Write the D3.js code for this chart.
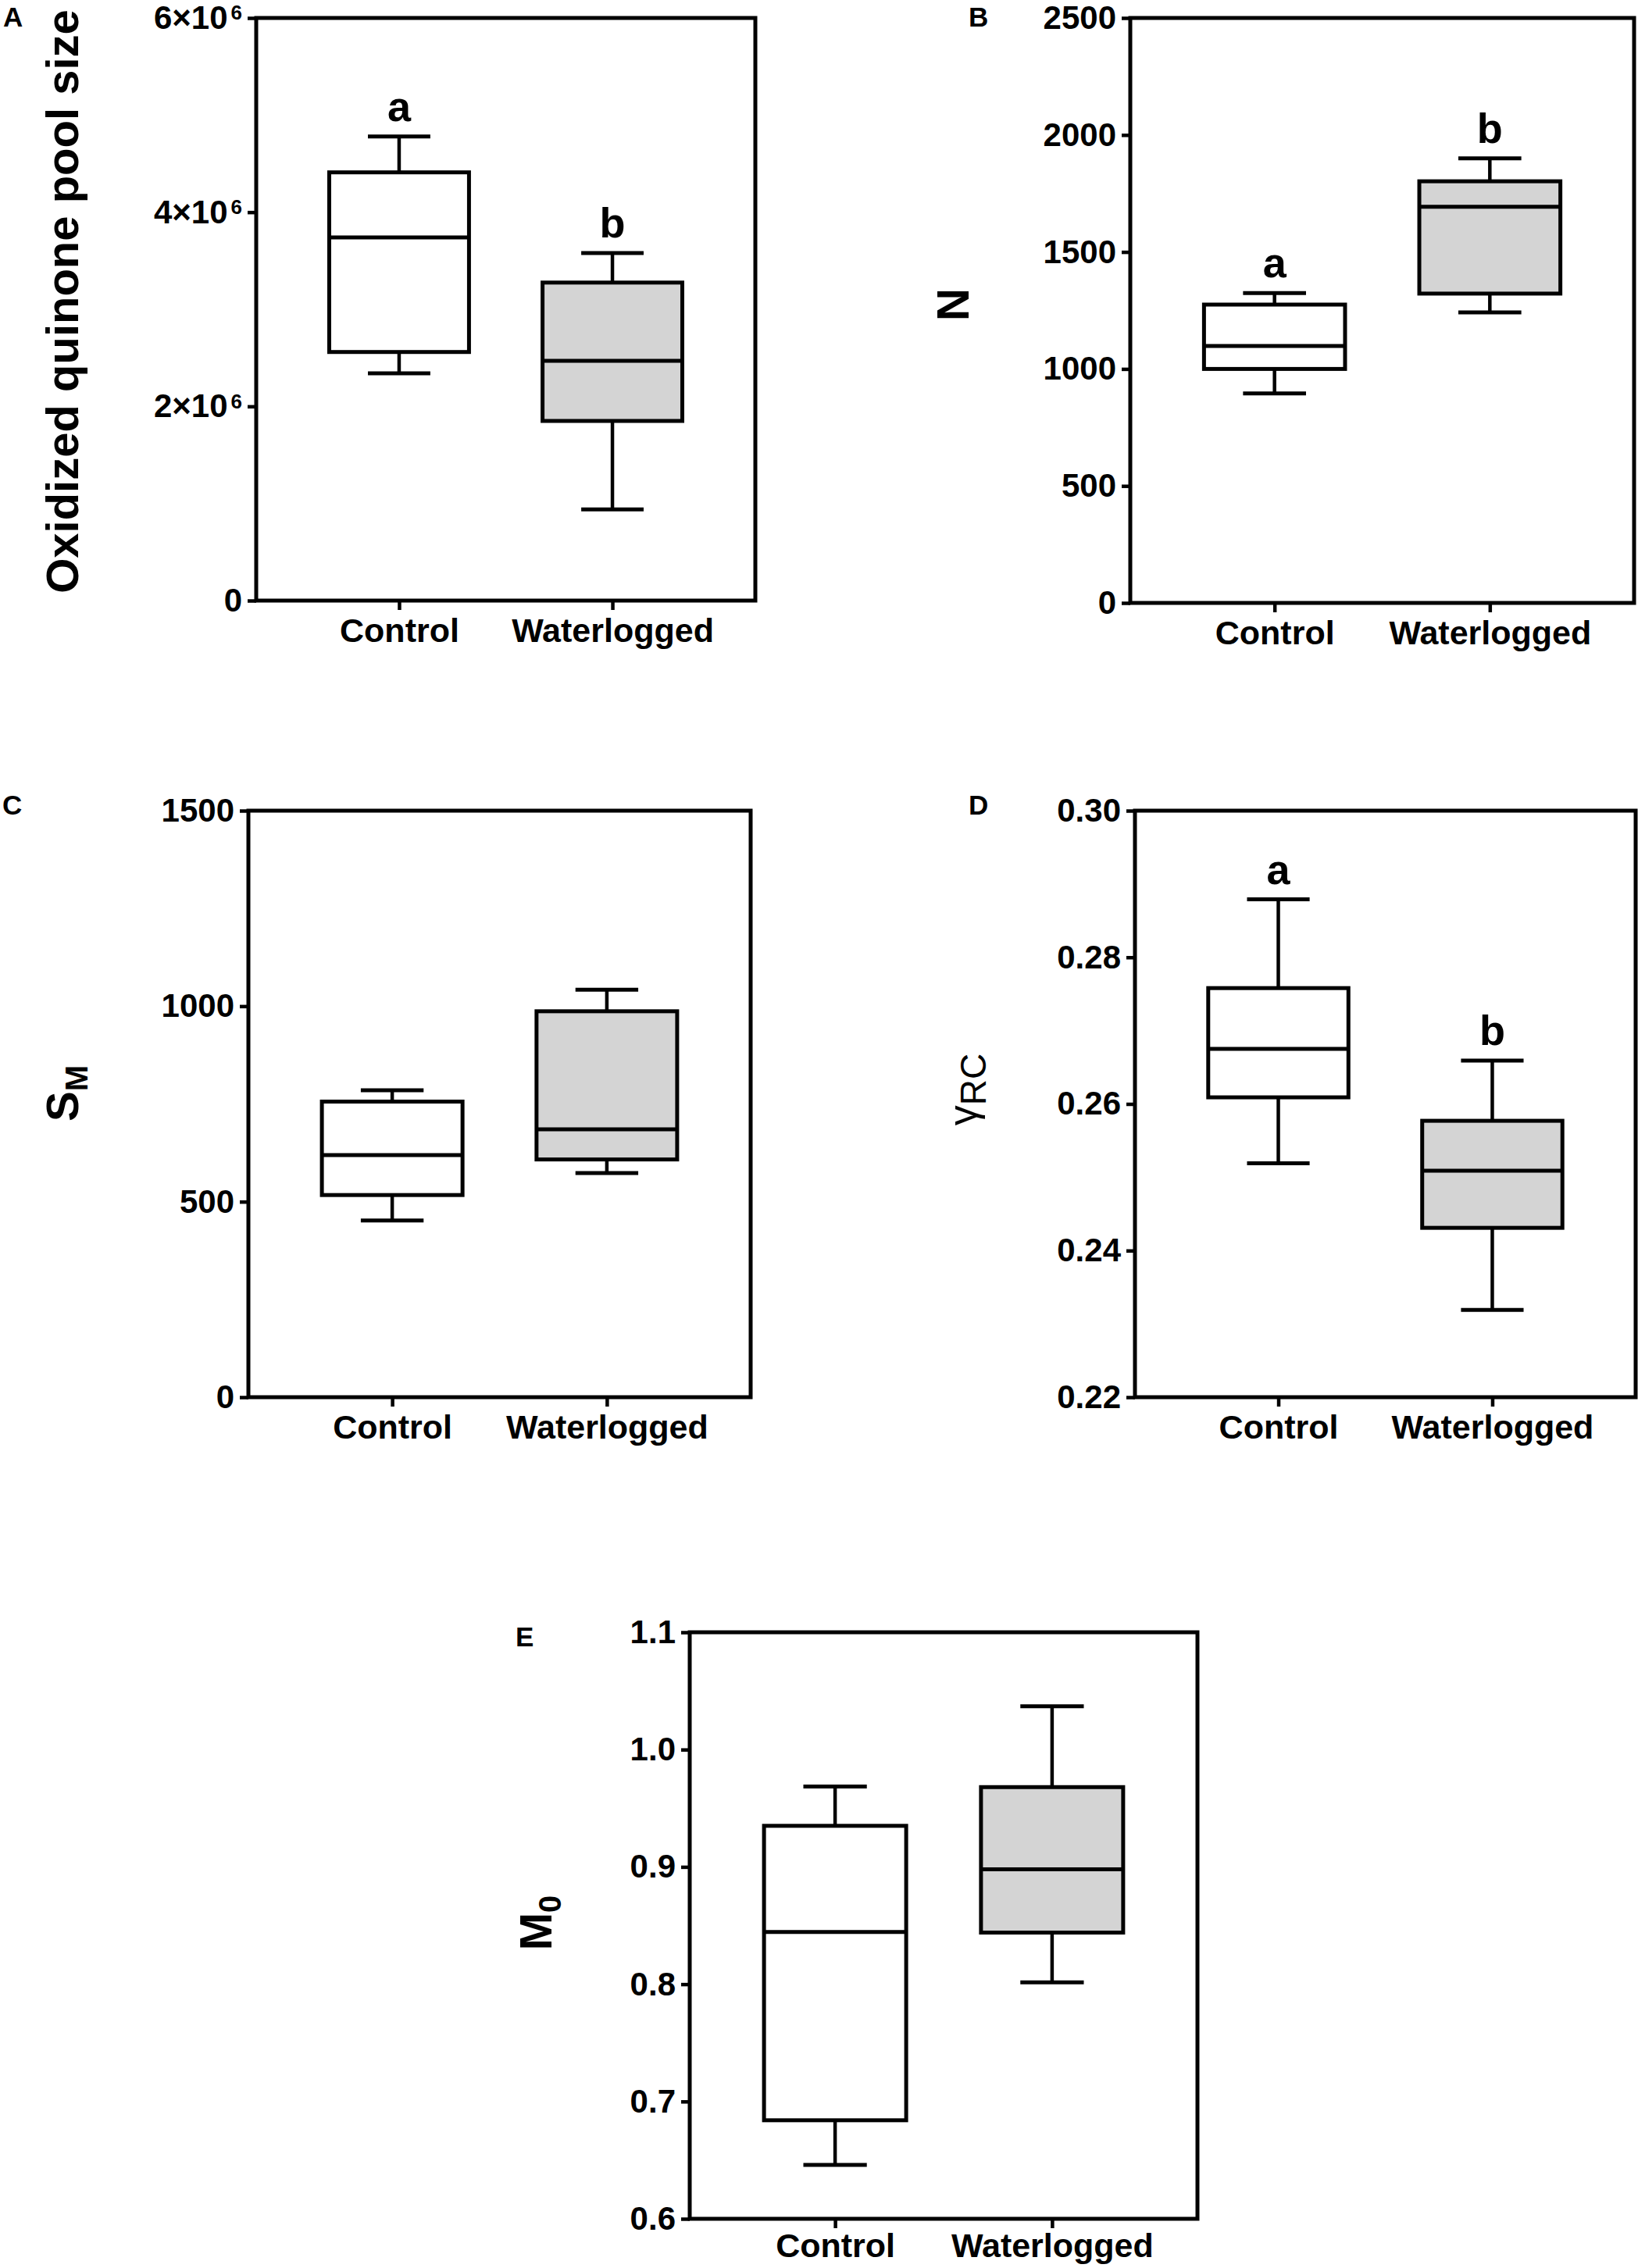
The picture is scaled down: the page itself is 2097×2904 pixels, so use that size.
<!DOCTYPE html>
<html>
<head>
<meta charset="utf-8">
<script src="https://cdn.jsdelivr.net/npm/d3@7"></script>
<style>
  html, body { margin: 0; padding: 0; background: #fff; }
  svg { display: block; }
  text { font-family: "Liberation Sans", Arial, Helvetica, sans-serif; fill: #000; }
</style>
</head>
<body>
<svg id="chart" width="2097" height="2904"></svg>
<script>
// ---------------- DATA ----------------
const categories = ["Control", "Waterlogged"];

// five-number summaries: [min, q1, median, q3, max]
const quinoneControl     = [2.34e6, 2.56e6, 3.74e6, 4.41e6, 4.78e6];
const quinoneWaterlogged = [0.94e6, 1.85e6, 2.47e6, 3.275e6, 3.58e6];
const quinoneTicks = [0, 2e6, 4e6, 6e6];
const quinoneLetters = ["a", "b"];

const nControl     = [895, 1000, 1098, 1275, 1324];
const nWaterlogged = [1242, 1322, 1693, 1802, 1900];
const nTicks = [0, 500, 1000, 1500, 2000, 2500];
const nLetters = ["a", "b"];

const smControl     = [452, 517, 619, 756, 785];
const smWaterlogged = [573, 608, 685, 987, 1042];
const smTicks = [0, 500, 1000, 1500];
const smLetters = [];

const gammaControl     = [0.2519, 0.2609, 0.2675, 0.2758, 0.2879];
const gammaWaterlogged = [0.2319, 0.2431, 0.2509, 0.2577, 0.2659];
const gammaTicks = [0.22, 0.24, 0.26, 0.28, 0.30];
const gammaLetters = ["a", "b"];

const m0Control     = [0.646, 0.684, 0.8445, 0.935, 0.9685];
const m0Waterlogged = [0.8015, 0.844, 0.898, 0.968, 1.037];
const m0Ticks = [0.6, 0.7, 0.8, 0.9, 1.0, 1.1];
const m0Letters = [];

// ---------------- LAYOUT ----------------
const fills = ["#ffffff", "#d4d4d4"];

const panels = [
  { tag: "A", box: [328, 967, 23, 769], tagPos: [4, 34], domain: [0, 6e6], xlabY: 53,
    series: [quinoneControl, quinoneWaterlogged], ticks: quinoneTicks, letters: quinoneLetters,
    fmt: "sci", title: { x: 100, y: 386, parts: [{ t: "Oxidized quinone pool size" }] } },
  { tag: "B", box: [1447, 2092, 23, 772], tagPos: [1240, 34], domain: [0, 2500], xlabY: 53,
    series: [nControl, nWaterlogged], ticks: nTicks, letters: nLetters,
    fmt: "int", title: { x: 1240, y: 390, parts: [{ t: "N" }] } },
  { tag: "C", box: [318, 961, 1038, 1789], tagPos: [3, 1043], domain: [0, 1500], xlabY: 53,
    series: [smControl, smWaterlogged], ticks: smTicks, letters: smLetters,
    fmt: "int", title: { x: 100, y: 1400, parts: [{ t: "S" }, { t: "M", sub: true }] } },
  { tag: "D", box: [1453, 2094, 1038, 1789], tagPos: [1240, 1043], domain: [0.22, 0.30], xlabY: 53,
    series: [gammaControl, gammaWaterlogged], ticks: gammaTicks, letters: gammaLetters,
    fmt: "2f", title: { x: 1250, y: 1395, regular: true, parts: [{ t: "γ" }, { t: "RC", sub: true }] } },
  { tag: "E", box: [883, 1533, 2090, 2841], tagPos: [660, 2108], domain: [0.6, 1.1], xlabY: 49,
    series: [m0Control, m0Waterlogged], ticks: m0Ticks, letters: m0Letters,
    fmt: "1f", title: { x: 706, y: 2462, parts: [{ t: "M" }, { t: "0", sub: true }] } }
];

const svg = d3.select("#chart");
svg.append("rect").attr("width", 2097).attr("height", 2904).attr("fill", "#fff");

const TICK_FS = 42, XLAB_FS = 43, TITLE_FS = 58, LETTER_FS = 54;

panels.forEach(p => {
  const [x0, x1, y0, y1] = p.box;
  const w = x1 - x0, h = y1 - y0;
  const g = svg.append("g").attr("transform", `translate(${x0},${y0})`);

  const y = d3.scaleLinear().domain(p.domain).range([h, 0]);
  const x = d3.scalePoint().domain(categories).range([0, w]).padding(0.67);

  // y axis
  const yAxis = d3.axisLeft(y).tickValues(p.ticks).tickSize(11).tickPadding(7);
  if (p.fmt === "int") yAxis.tickFormat(d3.format("d"));
  else if (p.fmt === "2f") yAxis.tickFormat(d3.format(".2f"));
  else if (p.fmt === "1f") yAxis.tickFormat(d3.format(".1f"));
  else yAxis.tickFormat(() => "");
  const ya = g.append("g").call(yAxis);
  ya.select(".domain").remove();
  ya.selectAll(".tick line").attr("stroke", "#000").attr("stroke-width", 4.5);
  ya.selectAll(".tick text").attr("font-size", TICK_FS).attr("font-weight", "bold")
    .attr("font-family", "Liberation Sans, Arial, sans-serif").attr("fill", "#000");
  if (p.fmt === "sci") {
    ya.selectAll(".tick text").each(function (d) {
      const t = d3.select(this);
      if (d === 0) { t.text("0"); return; }
      const m = Math.round(d / 1e6);
      t.append("tspan").text(m + "×10");
      t.append("tspan").attr("font-size", 26).attr("dy", "-0.45em").attr("dx", 4).text("6");
    });
  }

  // x axis
  const xAxis = d3.axisBottom(x).tickSize(12).tickPadding(12);
  const xa = g.append("g").attr("transform", `translate(0,${h})`).call(xAxis);
  xa.select(".domain").remove();
  xa.selectAll(".tick line").attr("stroke", "#000").attr("stroke-width", 4.5);
  xa.selectAll(".tick text").attr("font-size", XLAB_FS).attr("font-weight", "bold")
    .attr("font-family", "Liberation Sans, Arial, sans-serif").attr("fill", "#000")
    .attr("dy", null).attr("y", p.xlabY);

  // boxes
  const boxW = w * 0.28, capW = w * 0.125;
  p.series.forEach((s, i) => {
    const cx = x(categories[i]);
    const [mn, q1, md, q3, mx] = s;
    const bg = g.append("g");
    bg.append("line").attr("x1", cx).attr("x2", cx).attr("y1", y(mx)).attr("y2", y(q3))
      .attr("stroke", "#000").attr("stroke-width", 4.5);
    bg.append("line").attr("x1", cx).attr("x2", cx).attr("y1", y(q1)).attr("y2", y(mn))
      .attr("stroke", "#000").attr("stroke-width", 4.5);
    bg.append("line").attr("x1", cx - capW / 2).attr("x2", cx + capW / 2).attr("y1", y(mx)).attr("y2", y(mx))
      .attr("stroke", "#000").attr("stroke-width", 5);
    bg.append("line").attr("x1", cx - capW / 2).attr("x2", cx + capW / 2).attr("y1", y(mn)).attr("y2", y(mn))
      .attr("stroke", "#000").attr("stroke-width", 5);
    bg.append("rect").attr("x", cx - boxW / 2).attr("width", boxW)
      .attr("y", y(q3)).attr("height", y(q1) - y(q3))
      .attr("fill", fills[i]).attr("stroke", "#000").attr("stroke-width", 5);
    bg.append("line").attr("x1", cx - boxW / 2).attr("x2", cx + boxW / 2).attr("y1", y(md)).attr("y2", y(md))
      .attr("stroke", "#000").attr("stroke-width", 5);
    if (p.letters[i]) {
      g.append("text").attr("x", cx).attr("y", y(mx) - 20).attr("text-anchor", "middle")
        .attr("font-size", LETTER_FS).attr("font-weight", "bold").text(p.letters[i]);
    }
  });

  // frame
  g.append("rect").attr("x", 0).attr("y", 0).attr("width", w).attr("height", h)
    .attr("fill", "none").attr("stroke", "#000").attr("stroke-width", 5);

  // panel tag
  svg.append("text").attr("x", p.tagPos[0]).attr("y", p.tagPos[1])
    .attr("font-size", 35).attr("font-weight", "bold").text(p.tag);

  // y title
  const tt = svg.append("text")
    .attr("transform", `translate(${p.title.x},${p.title.y}) rotate(-90)`)
    .attr("text-anchor", "middle")
    .attr("font-size", p.title.regular ? 52 : TITLE_FS)
    .attr("font-weight", p.title.regular ? "normal" : "bold");
  p.title.parts.forEach(part => {
    const ts = tt.append("tspan").text(part.t);
    if (part.sub) ts.attr("font-size", p.title.regular ? 46 : 40).attr("dy", 12);
  });
});
</script>
</body>
</html>
